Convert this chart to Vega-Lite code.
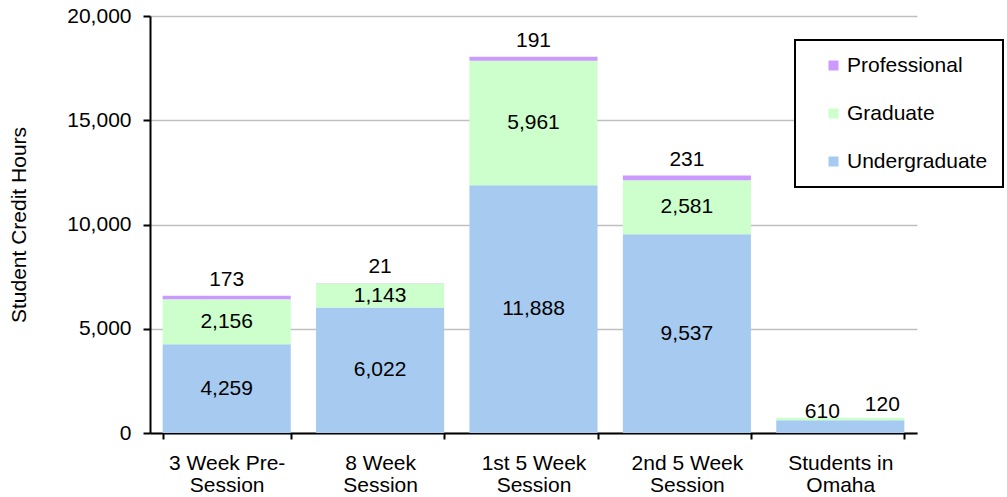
{
  "$schema": "https://vega.github.io/schema/vega-lite/v6.json",
  "width": 767,
  "height": 417,
  "autosize": {"type": "none"},
  "padding": {"left": 150, "top": 16, "right": 90, "bottom": 64},
  "config": {"font": "Liberation Sans", "view": {"stroke": null}, "legend": {"strokeWidth": 2}},
  "data": {
    "values": [
      {"session": "3 Week Pre-Session", "level": "Undergraduate", "tier": 1, "hours": 4259},
      {"session": "3 Week Pre-Session", "level": "Graduate", "tier": 2, "hours": 2156},
      {"session": "3 Week Pre-Session", "level": "Professional", "tier": 3, "hours": 173},
      {"session": "8 Week Session", "level": "Undergraduate", "tier": 1, "hours": 6022},
      {"session": "8 Week Session", "level": "Graduate", "tier": 2, "hours": 1143},
      {"session": "8 Week Session", "level": "Professional", "tier": 3, "hours": 21},
      {"session": "1st 5 Week Session", "level": "Undergraduate", "tier": 1, "hours": 11888},
      {"session": "1st 5 Week Session", "level": "Graduate", "tier": 2, "hours": 5961},
      {"session": "1st 5 Week Session", "level": "Professional", "tier": 3, "hours": 191},
      {"session": "2nd 5 Week Session", "level": "Undergraduate", "tier": 1, "hours": 9537},
      {"session": "2nd 5 Week Session", "level": "Graduate", "tier": 2, "hours": 2581},
      {"session": "2nd 5 Week Session", "level": "Professional", "tier": 3, "hours": 231},
      {"session": "Students in Omaha", "level": "Undergraduate", "tier": 1, "hours": 610},
      {"session": "Students in Omaha", "level": "Graduate", "tier": 2, "hours": 120}
    ]
  },
  "encoding": {
    "x": {
      "field": "session",
      "type": "nominal",
      "sort": ["3 Week Pre-Session", "8 Week Session", "1st 5 Week Session", "2nd 5 Week Session", "Students in Omaha"],
      "scale": {"paddingInner": 0.165, "paddingOuter": 0.0825},
      "axis": {
        "title": null,
        "tickBand": "extent",
        "labelAngle": 0,
        "domainColor": "black",
        "domainWidth": 2,
        "tickColor": "black",
        "tickWidth": 2,
        "tickSize": 6,
        "labelFontSize": 21,
        "labelColor": "black",
        "labelLineHeight": 22,
        "labelPadding": 13,
        "labelBaseline": "top",
        "labelExpr": "datum.label === 'Students in Omaha' ? ['Students in', 'Omaha'] : indexof(datum.label, 'Session') > 0 ? [trim(replace(datum.label, 'Session', '')), 'Session'] : datum.label"
      }
    }
  },
  "layer": [
    {
      "mark": {"type": "bar"},
      "encoding": {
        "y": {
          "field": "hours",
          "type": "quantitative",
          "stack": "zero",
          "title": "Student Credit Hours",
          "scale": {"domain": [0, 20000]},
          "axis": {
            "values": [0, 5000, 10000, 15000, 20000],
            "format": ",.0f",
            "grid": true,
            "gridColor": "#C0C0C0",
            "gridWidth": 1.5,
            "domainColor": "black",
            "domainWidth": 2,
            "tickColor": "black",
            "tickWidth": 2,
            "tickSize": 7,
            "labelFontSize": 21,
            "labelColor": "black",
            "labelPadding": 12,
            "titleFontSize": 21,
            "titleFontWeight": "normal",
            "titleColor": "black",
            "titlePadding": 37
          }
        },
        "order": {"field": "tier", "type": "quantitative"},
        "color": {
          "field": "level",
          "type": "nominal",
          "scale": {
            "domain": ["Professional", "Graduate", "Undergraduate"],
            "range": ["#CC99FF", "#CCFFCC", "#A6CAF0"]
          },
          "legend": {
            "title": null,
            "orient": "none",
            "legendX": 645,
            "legendY": 24,
            "strokeColor": "black",
            "fillColor": "white",
            "padding": 15,
            "symbolType": "square",
            "symbolSize": 100,
            "symbolStrokeWidth": 0,
            "symbolOffset": 13,
            "labelOffset": 3,
            "labelFontSize": 21,
            "labelColor": "black",
            "rowPadding": 26
          }
        }
      }
    },
    {
      "transform": [
        {"stack": "hours", "groupby": ["session"], "sort": [{"field": "tier", "order": "ascending"}], "as": ["y0", "y1"]},
        {"calculate": "(datum.y0 + datum.y1) / 2", "as": "mid"}
      ],
      "layer": [
        {
          "transform": [{"filter": "datum.session !== 'Students in Omaha' && datum.tier < 3"}],
          "mark": {"type": "text", "fontSize": 21, "color": "black", "baseline": "middle"},
          "encoding": {
            "y": {"field": "mid", "type": "quantitative", "title": "Student Credit Hours", "axis": {"format": ",.0f", "values": [0, 5000, 10000, 15000, 20000]}},
            "text": {"field": "hours", "type": "quantitative", "format": ","}
          }
        },
        {
          "transform": [{"filter": "datum.session !== 'Students in Omaha' && datum.tier == 3"}],
          "mark": {"type": "text", "fontSize": 21, "color": "black", "baseline": "bottom", "dy": -6},
          "encoding": {
            "y": {"field": "y1", "type": "quantitative", "title": "Student Credit Hours", "axis": {"format": ",.0f", "values": [0, 5000, 10000, 15000, 20000]}},
            "text": {"field": "hours", "type": "quantitative", "format": ","}
          }
        },
        {
          "transform": [{"filter": "datum.session === 'Students in Omaha' && datum.tier == 1"}],
          "mark": {"type": "text", "fontSize": 21, "color": "black", "baseline": "middle", "dx": -18, "dy": -15},
          "encoding": {
            "y": {"field": "mid", "type": "quantitative", "title": "Student Credit Hours", "axis": {"format": ",.0f", "values": [0, 5000, 10000, 15000, 20000]}},
            "text": {"field": "hours", "type": "quantitative", "format": ","}
          }
        },
        {
          "transform": [{"filter": "datum.session === 'Students in Omaha' && datum.tier == 2"}],
          "mark": {"type": "text", "fontSize": 21, "color": "black", "baseline": "middle", "dx": 42, "dy": -14},
          "encoding": {
            "y": {"field": "mid", "type": "quantitative", "title": "Student Credit Hours", "axis": {"format": ",.0f", "values": [0, 5000, 10000, 15000, 20000]}},
            "text": {"field": "hours", "type": "quantitative", "format": ","}
          }
        }
      ]
    }
  ]
}
